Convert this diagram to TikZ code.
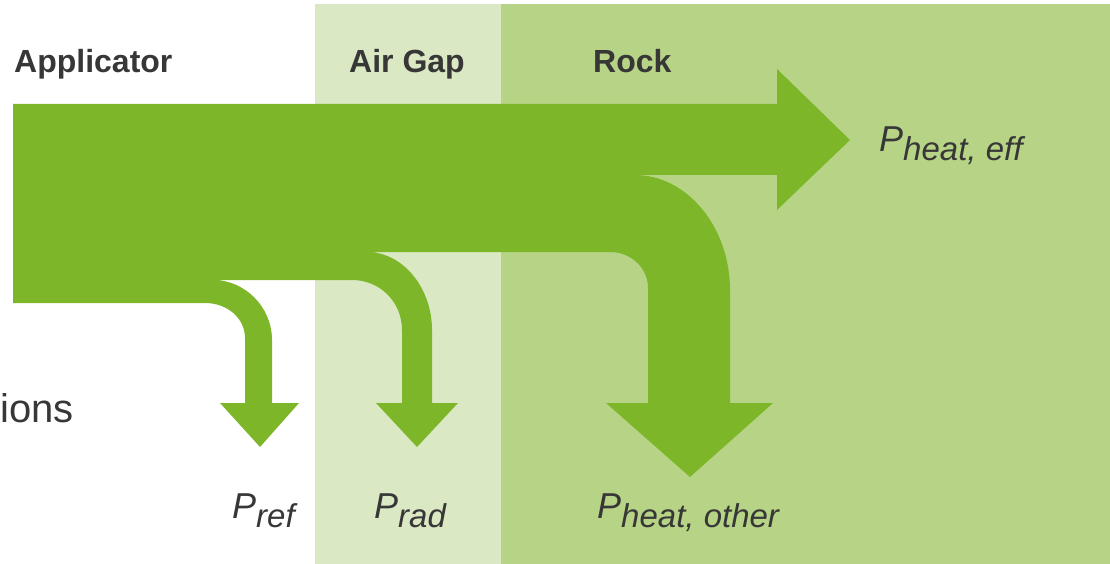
\documentclass[tikz,border=0pt]{standalone}
\usepackage{fontspec}
\setmainfont{Liberation Sans}
\usepackage{xcolor}
\usetikzlibrary{positioning,calc}

\definecolor{flowgreen}{RGB}{125,183,41}
\definecolor{airgapbg}{RGB}{218,232,196}
\definecolor{rockbg}{RGB}{183,212,134}
\definecolor{labelgray}{RGB}{55,55,55}

\newcommand{\pflow}[1]{P\raisebox{-9pt}{\fontsize{33}{33}\selectfont #1}}

\begin{document}
\begin{tikzpicture}[x=1pt, y=-1pt,
    region/.style={anchor=base west, inner sep=0pt, text=labelgray, font=\bfseries\fontsize{32}{32}\selectfont},
    power/.style={anchor=base west, inner sep=0pt, text=labelgray, font=\itshape\fontsize{36}{36}\selectfont}]
    \useasboundingbox (0,0) rectangle (1110,564);

    % Layers
    \fill[airgapbg] (315,4) rectangle (501,564);
    \fill[rockbg] (501,4) rectangle (1110,564);

    % Power flow
    \fill[flowgreen] (13,104) -- (777,104) -- (777,69) -- (850,140) -- (777,210) -- (777,175)
        -- (635,175) .. controls (687,175) and (730,227) .. (730,290)
        -- (730,403) -- (773,403) -- (690,477) -- (606,403) -- (648,403) -- (648,288)
        .. controls (648,268) and (631,252) .. (610,252)
        -- (367,252) .. controls (403,252) and (432,288) .. (432,330)
        -- (432,403) -- (458,403) -- (417,447) -- (376,403) -- (402,403) -- (402,330)
        .. controls (402,302) and (380,280) .. (352,280)
        -- (213,280) .. controls (245,280) and (272,307) .. (272,340)
        -- (272,403) -- (299,403) -- (260,447) -- (220,403) -- (245,403) -- (245,338)
        .. controls (245,318) and (227,303) .. (205,303)
        -- (13,303) -- cycle;

    % Labels
    \node[region] (applicator) at (14,73) {Applicator};
    \node[region] (airgap) at (349,73) {Air Gap};
    \node[region] (rock) at (593,73) {Rock};
    \node[anchor=base east, inner sep=0pt, text=labelgray, font=\fontsize{40}{40}\selectfont] (ions) at (74,422) {ions};

    \node[power] (pheateff) at (879,152) {\pflow{heat, eff}};
    \node[power] (pref) at (232,518) {\pflow{ref}};
    \node[power] (prad) at (374,518) {\pflow{rad}};
    \node[power] (pheatother) at (597,518) {\pflow{heat, other}};
\end{tikzpicture}
\end{document}
